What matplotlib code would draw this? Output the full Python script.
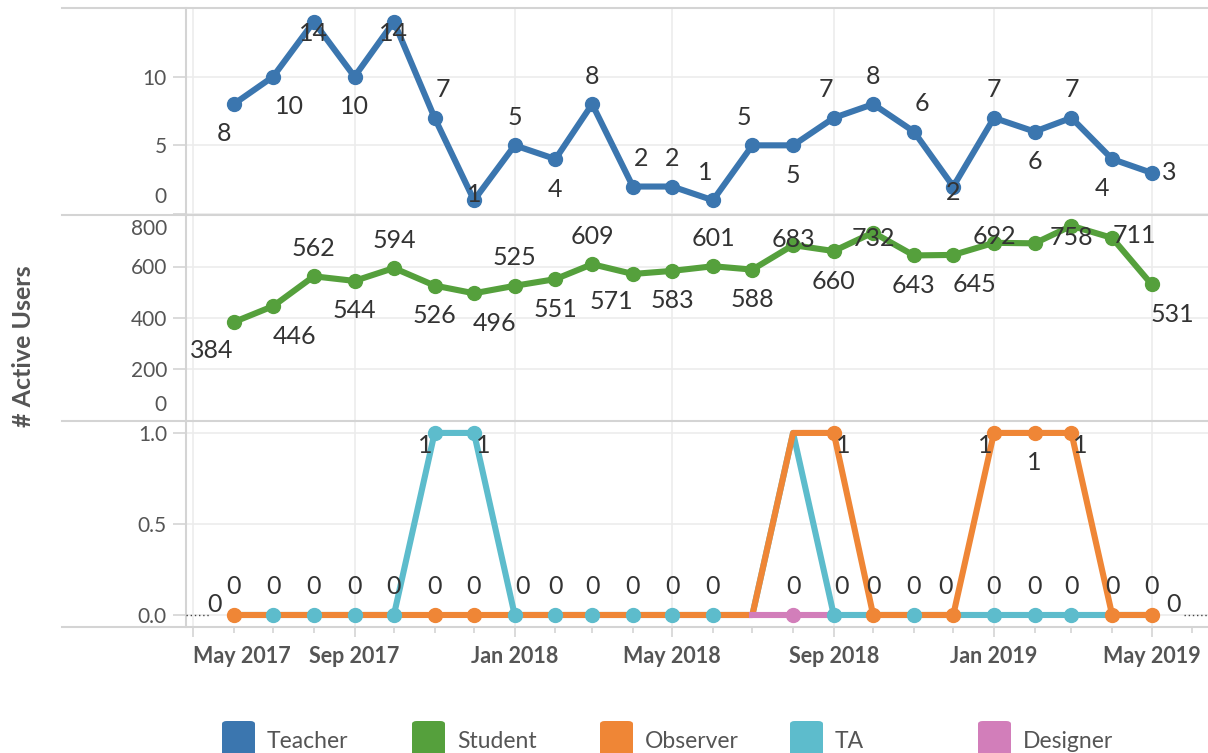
# Active users per role, monthly (Tableau-style three pane line chart)
import matplotlib
matplotlib.use("Agg")
import matplotlib.pyplot as plt
import matplotlib.dates as mdates
import matplotlib.transforms as mtransforms
from matplotlib.patches import FancyBboxPatch
from matplotlib.lines import Line2D
import pandas as pd

plt.rcParams['font.family'] = ['Lato', 'DejaVu Sans']

# ---- data ----
months = pd.date_range("2017-06-01", "2019-05-01", freq="MS")
roles = ["Teacher", "Student", "Observer", "TA", "Designer"]

teacher = [8, 10, 14, 10, 14, 7, 1, 5, 4, 8, 2, 2, 1, 5, 5, 7, 8, 6, 2, 7, 6, 7, 4, 3]
student = [384, 446, 562, 544, 594, 526, 496, 525, 551, 609, 571, 583,
           601, 588, 683, 660, 732, 643, 645, 692, 690, 758, 711, 531]
observer = [0, 0, 0, 0, 0, 0, 0, 0, 0, 0, 0, 0, 0, 0, 1, 1, 0, 0, 0, 1, 1, 1, 0, 0]
ta = [0, 0, 0, 0, 0, 1, 1, 0, 0, 0, 0, 0, 0, 0, 1, 0, 0, 0, 0, 0, 0, 0, 0, 0]
designer_months = months[13:16]
designer = [0, 0, 0]

tick_dates = pd.to_datetime(["2017-05-01", "2017-09-01", "2018-01-01", "2018-05-01",
                             "2018-09-01", "2019-01-01", "2019-05-01"])
tick_labels = ["May 2017", "Sep 2017", "Jan 2018", "May 2018", "Sep 2018", "Jan 2019", "May 2019"]

# ---- style ----
colors = {"Teacher": "#3b76af", "Student": "#55a03c", "Observer": "#ef8636",
          "TA": "#5dbccc", "Designer": "#d27eba"}

# label placement codes -> offset in pixels (dx right, dy down)
OFF = {'a': (0, -28), 'al': (-8, -28), 'ar': (8, -28), 'b': (0, 30), 'bl': (-10, 29),
       'br': (16, 30), 'bL': (-22, 28), 'bR': (21, 30), 'o': (0, 6), 'od': (0, 12),
       'ou': (0, -6), 'r': (18, 0), 'R': (22, -2), 'l': (-19, -10), 'R0': (22, -10),
       'l1': (-9, 13), 'r1': (9, 13)}

teacher_lab = ['bl', 'br', 'od', 'b', 'od', 'ar', 'ou', 'a', 'b', 'a', 'ar', 'a',
               'al', 'al', 'b', 'al', 'a', 'ar', 'o', 'a', 'b', 'a', 'bl', 'r']
student_lab = ['bL', 'bR', 'a', 'b', 'a', 'b', 'bR', 'a', 'b', 'a', 'bL', 'b',
               'a', 'b', 'ou', 'b', 'o', 'b', 'bR', 'ou', None, 'od', 'R', 'bR']
observer_lab = ['a', 'a', 'a', 'a', 'a', 'a', 'a', 'ar', 'a', 'a', 'a', 'a',
                'a', None, None, 'r1', 'a', 'a', 'al', 'l1', 'b', 'r1', 'a', 'a']
ta_lab = ['l', None, None, None, None, 'l1', 'r1', None, None, None, None, None,
          None, None, None, 'ar', None, None, None, 'a', 'a', 'a', None, 'R0']
designer_lab = [None, 'a', None]

# which months show a visible dot in the bottom pane
ta_dots = [1, 2, 3, 4, 5, 6, 7, 8, 9, 10, 11, 12, 15, 17, 19, 20, 21]
observer_dots = [0, 5, 6, 15, 16, 18, 19, 20, 21, 22, 23]
designer_dots = [1]

W, H = 1208, 753
fig = plt.figure(figsize=(W / 100, H / 100), dpi=100)

GRID = '#ececec'
LINE = '#d4d4d4'
TXT = '#555555'
LW = 4.4
MS = 10


def fy(px):
    return 1 - px / H


left = 186 / W
ax1 = fig.add_axes([left, fy(214), 1 - left, (214 - 8) / H])
ax2 = fig.add_axes([left, fy(421), 1 - left, (421 - 215) / H], sharex=ax1)
ax3 = fig.add_axes([left, fy(627), 1 - left, (627 - 422) / H], sharex=ax1)


def label_points(ax, xs, ys, codes):
    for x, y, c in zip(xs, ys, codes):
        if c is None:
            continue
        dx, dy = OFF[c]
        ax.annotate(str(y), (x, y), xytext=(dx * 0.72, -dy * 0.72), textcoords='offset points',
                    ha='center', va='center', fontsize=18, color='#333333', zorder=10)


def shift_label(lab, px):
    lab.set_transform(lab.get_transform() +
                      mtransforms.ScaledTranslation(0, px / 100, fig.dpi_scale_trans))


for ax in (ax1, ax2, ax3):
    for s in ('top', 'right', 'bottom'):
        ax.spines[s].set_visible(False)
    ax.spines['left'].set_color(LINE)
    ax.spines['left'].set_linewidth(1.5)
    ax.set_facecolor('none')
    ax.grid(True, color=GRID, lw=1.2, zorder=0)
    ax.set_axisbelow(True)
    ax.tick_params(axis='y', length=9.4, width=1.2, color=LINE, pad=4.3,
                   labelsize=15, labelcolor=TXT)
    ax.tick_params(axis='x', which='both', bottom=False, labelbottom=False)

# top pane: Teacher
ax1.plot(months, teacher, color=colors["Teacher"], lw=LW, marker='o', ms=MS, zorder=3)
label_points(ax1, months, teacher, teacher_lab)
ax1.set_ylim(0, 15)
ax1.set_yticks([0, 5, 10])

# middle pane: Student
ax2.plot(months, student, color=colors["Student"], lw=LW, marker='o', ms=MS, zorder=3)
label_points(ax2, months, student, student_lab)
ax2.set_ylim(0, 800)
ax2.set_yticks([0, 200, 400, 600, 800])

# bottom pane: Observer, TA, Designer
ax3.plot(months, ta, color=colors["TA"], lw=LW, zorder=2, solid_capstyle='round')
ax3.plot(months, observer, color=colors["Observer"], lw=LW, zorder=3, solid_capstyle='round')
ax3.plot(designer_months, designer, color=colors["Designer"], lw=LW, zorder=3.5)
ax3.plot(months[ta_dots], [ta[i] for i in ta_dots], 'o', color=colors["TA"], ms=MS, zorder=4)
ax3.plot(months[observer_dots], [observer[i] for i in observer_dots], 'o',
         color=colors["Observer"], ms=MS, zorder=4)
ax3.plot(designer_months[designer_dots], [designer[i] for i in designer_dots], 'o',
         color=colors["Designer"], ms=MS, zorder=4)
label_points(ax3, months, observer, observer_lab)
label_points(ax3, months, ta, ta_lab)
label_points(ax3, designer_months, designer, designer_lab)
ax3.set_ylim(-0.066, 1.06)
ax3.set_yticks([0, 0.5, 1.0])
ax3.set_yticklabels(["0.0", "0.5", "1.0"])

x0 = pd.Timestamp("2017-04-25 16:00")
x1 = pd.Timestamp("2019-06-13")
ax3.set_xlim(x0, x1)

# dotted leader lines at zero
ax3.plot([x0, months[0] - pd.Timedelta(days=19)], [0, 0], color='#444444', lw=1,
         ls=(0, (1, 2)), zorder=5)
ax3.plot([months[-1] + pd.Timedelta(days=25), x1], [0, 0], color='#444444', lw=1,
         ls=(0, (1, 2)), zorder=5)

# x axis (date ticks)
ax3.set_xticks(tick_dates)
ax3.xaxis.set_minor_locator(mdates.MonthLocator())
ax3.tick_params(axis='x', which='major', bottom=True, labelbottom=True, length=7,
                width=1.2, color=LINE, pad=7, labelsize=15.5, labelcolor=TXT)
ax3.tick_params(axis='x', which='minor', bottom=True, length=4.5, width=1.2, color=LINE)
ax3.set_xticklabels(tick_labels, fontweight='bold')
ax3.get_xticklabels()[0].set_ha('left')
for ax in (ax1, ax2):
    ax.tick_params(axis='x', which='both', bottom=False, labelbottom=False)

fig.canvas.draw()
# keep the end labels inside each pane like Tableau
shift_label(ax1.get_yticklabels()[0], 19)
shift_label(ax2.get_yticklabels()[-1], -12)
shift_label(ax2.get_yticklabels()[0], 18)

# row dividers
for py in (8, 214.5, 421.5, 627):
    fig.add_artist(Line2D([62 / W, 1], [fy(py), fy(py)], color=LINE, lw=1.5))

fig.text(24 / W, fy(346), "# Active Users", rotation=90, ha='center', va='center',
         fontsize=18, fontweight='bold', color=TXT)

# legend
leg_x = [222, 412, 600, 790, 978]
for x, r in zip(leg_x, roles):
    fig.add_artist(FancyBboxPatch((x / W, fy(760)), 33 / W, 39 / H,
                                  boxstyle="round,pad=0,rounding_size=0.004",
                                  transform=fig.transFigure, color=colors[r], lw=0))
    fig.text((x + 45) / W, fy(742), r, ha='left', va='center', fontsize=16.5, color=TXT)

fig.savefig("out.png", dpi=100)
